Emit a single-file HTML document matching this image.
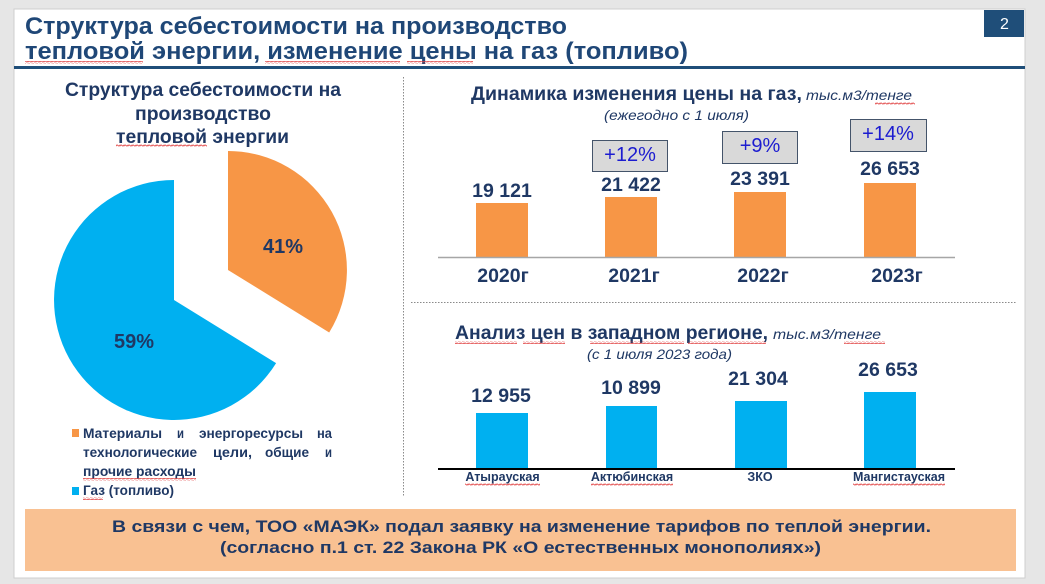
<!DOCTYPE html>
<html>
<head>
<meta charset="utf-8">
<style>
  html,body{margin:0;padding:0;background:#e6e6e6;}
  body{width:1045px;height:584px;overflow:hidden;}
  svg{display:block;}
  text{font-family:"Liberation Sans",Arial,sans-serif;}
</style>
</head>
<body>
<svg width="1045" height="584" viewBox="0 0 1045 584" xmlns="http://www.w3.org/2000/svg">
  <defs>
    <pattern id="wv" width="4" height="3" patternUnits="userSpaceOnUse">
      <path d="M0,2.2 L1,0.8 L3,2.2 L4,0.8" stroke="#e04040" fill="none" stroke-width="0.8"/>
    </pattern>
  </defs>
  <!-- background -->
  <rect x="0" y="0" width="1045" height="584" fill="#e6e6e6"/>
  <!-- slide -->
  <rect x="14" y="9" width="1011" height="569" fill="#ffffff" stroke="#cfcfcf" stroke-width="1"/>

  <!-- main title -->
  <text x="25" y="34" font-size="24" font-weight="bold" fill="#1f4777" textLength="542" lengthAdjust="spacingAndGlyphs">Структура себестоимости на производство</text>
  <text x="25" y="59" font-size="24" font-weight="bold" fill="#1f4777" textLength="663" lengthAdjust="spacingAndGlyphs">тепловой энергии, изменение цены на газ (топливо)</text>
  <rect x="25" y="61" width="118" height="3" fill="url(#wv)"/>
  <rect x="265" y="61" width="135" height="3" fill="url(#wv)"/>
  <rect x="407" y="61" width="66" height="3" fill="url(#wv)"/>
  <!-- title underline -->
  <rect x="14" y="66" width="1011" height="3" fill="#1f4e79"/>
  <!-- page number -->
  <rect x="984" y="10" width="40" height="27" fill="#1f4e79"/>
  <text x="1004.5" y="29" font-size="16" fill="#ffffff" text-anchor="middle">2</text>

  <!-- separators -->
  <line x1="403.5" y1="77" x2="403.5" y2="497" stroke="#8a8a8a" stroke-width="1" stroke-dasharray="1.5,1.5"/>
  <line x1="411" y1="302.5" x2="1016" y2="302.5" stroke="#8a8a8a" stroke-width="1" stroke-dasharray="1.5,1.5"/>

  <!-- LEFT PANEL -->
  <text x="65" y="96" font-size="19" font-weight="bold" fill="#1f3864" textLength="276" lengthAdjust="spacingAndGlyphs">Структура себестоимости на</text>
  <text x="135" y="120" font-size="19" font-weight="bold" fill="#1f3864" textLength="136" lengthAdjust="spacingAndGlyphs">производство</text>
  <text x="116" y="143" font-size="19" font-weight="bold" fill="#1f3864" textLength="173" lengthAdjust="spacingAndGlyphs">тепловой энергии</text>
  <rect x="116" y="144" width="91" height="3" fill="url(#wv)"/>

  <!-- pie -->
  <path d="M174,300 L276.1,363.1 A120,120 0 1 1 174,180 Z" fill="#00b0f0"/>
  <path d="M228,270 L228,151 A119,119 0 0 1 329.2,332.5 Z" fill="#f79646"/>
  <text x="283" y="253" font-size="20" font-weight="bold" fill="#1f3864" text-anchor="middle">41%</text>
  <text x="134" y="348" font-size="20" font-weight="bold" fill="#1f3864" text-anchor="middle">59%</text>

  <!-- legend -->
  <g font-size="13.5" font-weight="bold" fill="#1f3864">
    <rect x="72" y="429" width="7" height="8" fill="#f79646"/>
    <text x="83" y="438" textLength="79" lengthAdjust="spacingAndGlyphs">Материалы</text>
    <text x="177" y="438" textLength="7" lengthAdjust="spacingAndGlyphs">и</text>
    <text x="199" y="438" textLength="104" lengthAdjust="spacingAndGlyphs">энергоресурсы</text>
    <text x="317" y="438" textLength="15" lengthAdjust="spacingAndGlyphs">на</text>
    <text x="83" y="457" textLength="114" lengthAdjust="spacingAndGlyphs">технологические</text>
    <text x="213" y="457" textLength="39" lengthAdjust="spacingAndGlyphs">цели,</text>
    <text x="265" y="457" textLength="44" lengthAdjust="spacingAndGlyphs">общие</text>
    <text x="325" y="457" textLength="7" lengthAdjust="spacingAndGlyphs">и</text>
    <text x="83" y="476" textLength="113" lengthAdjust="spacingAndGlyphs">прочие расходы</text>
    <rect x="72" y="487" width="7" height="8" fill="#00b0f0"/>
    <text x="83" y="495" textLength="91" lengthAdjust="spacingAndGlyphs">Газ (топливо)</text>
  </g>
  <rect x="83" y="478" width="113" height="3" fill="url(#wv)"/>
  <rect x="83" y="497" width="20" height="3" fill="url(#wv)"/>

  <!-- RIGHT TOP CHART -->
  <text x="471" y="100" font-size="19" font-weight="bold" fill="#1f3864" textLength="331" lengthAdjust="spacingAndGlyphs">Динамика изменения цены на газ,</text>
  <text x="806" y="100" font-size="14" font-style="italic" fill="#1f3864" textLength="106" lengthAdjust="spacingAndGlyphs">тыс.м3/тенге</text>
  <rect x="875" y="102" width="40" height="3" fill="url(#wv)"/>
  <text x="604" y="120" font-size="14" font-style="italic" fill="#1f3864" textLength="145" lengthAdjust="spacingAndGlyphs">(ежегодно с 1 июля)</text>

  <rect x="476" y="203" width="52" height="54" fill="#f79646"/>
  <rect x="605" y="197" width="52" height="60" fill="#f79646"/>
  <rect x="734" y="192" width="52" height="65" fill="#f79646"/>
  <rect x="864" y="183" width="52" height="74" fill="#f79646"/>
  <line x1="438" y1="257.5" x2="955" y2="257.5" stroke="#a6a6a6" stroke-width="1.5"/>

  <text x="502" y="197" font-size="19.5" font-weight="bold" fill="#1f3864" text-anchor="middle">19 121</text>
  <text x="631" y="191" font-size="19.5" font-weight="bold" fill="#1f3864" text-anchor="middle">21 422</text>
  <text x="760" y="185" font-size="19.5" font-weight="bold" fill="#1f3864" text-anchor="middle">23 391</text>
  <text x="890" y="175" font-size="19.5" font-weight="bold" fill="#1f3864" text-anchor="middle">26 653</text>

  <rect x="592.5" y="140.5" width="75" height="31" fill="#d9d9d9" stroke="#44546a" stroke-width="1"/>
  <text x="630" y="161" font-size="20" fill="#1c1cd0" text-anchor="middle">+12%</text>
  <rect x="722.5" y="131.5" width="75" height="32" fill="#d9d9d9" stroke="#44546a" stroke-width="1"/>
  <text x="760" y="152" font-size="20" fill="#1c1cd0" text-anchor="middle">+9%</text>
  <rect x="850.5" y="119.5" width="76" height="32" fill="#d9d9d9" stroke="#44546a" stroke-width="1"/>
  <text x="888" y="140" font-size="20" fill="#1c1cd0" text-anchor="middle">+14%</text>

  <text x="503" y="282" font-size="19.5" font-weight="bold" fill="#1f3864" text-anchor="middle">2020г</text>
  <text x="634" y="282" font-size="19.5" font-weight="bold" fill="#1f3864" text-anchor="middle">2021г</text>
  <text x="763" y="282" font-size="19.5" font-weight="bold" fill="#1f3864" text-anchor="middle">2022г</text>
  <text x="897" y="282" font-size="19.5" font-weight="bold" fill="#1f3864" text-anchor="middle">2023г</text>

  <!-- RIGHT BOTTOM CHART -->
  <text x="455" y="339" font-size="19" font-weight="bold" fill="#1f3864" textLength="313" lengthAdjust="spacingAndGlyphs">Анализ цен в западном регионе,</text>
  <text x="773" y="339" font-size="14" font-style="italic" fill="#1f3864" textLength="108" lengthAdjust="spacingAndGlyphs">тыс.м3/тенге</text>
  <rect x="455" y="341" width="62" height="3" fill="url(#wv)"/>
  <rect x="523" y="341" width="42" height="3" fill="url(#wv)"/>
  <rect x="590" y="341" width="94" height="3" fill="url(#wv)"/>
  <rect x="688" y="341" width="78" height="3" fill="url(#wv)"/>
  <rect x="844" y="341" width="41" height="3" fill="url(#wv)"/>
  <text x="587" y="359" font-size="14" font-style="italic" fill="#1f3864" textLength="145" lengthAdjust="spacingAndGlyphs">(с 1 июля 2023 года)</text>

  <rect x="476" y="413" width="52" height="55" fill="#00b0f0"/>
  <rect x="606" y="406" width="51" height="62" fill="#00b0f0"/>
  <rect x="735" y="401" width="52" height="67" fill="#00b0f0"/>
  <rect x="864" y="392" width="52" height="76" fill="#00b0f0"/>
  <line x1="438" y1="469" x2="955" y2="469" stroke="#000000" stroke-width="2"/>

  <text x="501" y="402" font-size="19.5" font-weight="bold" fill="#1f3864" text-anchor="middle">12 955</text>
  <text x="631" y="394" font-size="19.5" font-weight="bold" fill="#1f3864" text-anchor="middle">10 899</text>
  <text x="758" y="385" font-size="19.5" font-weight="bold" fill="#1f3864" text-anchor="middle">21 304</text>
  <text x="888" y="376" font-size="19.5" font-weight="bold" fill="#1f3864" text-anchor="middle">26 653</text>

  <text x="502.5" y="481" font-size="12.5" font-weight="bold" fill="#1f3864" text-anchor="middle">Атырауская</text>
  <text x="632" y="481" font-size="12.5" font-weight="bold" fill="#1f3864" text-anchor="middle">Актюбинская</text>
  <text x="760" y="481" font-size="12.5" font-weight="bold" fill="#1f3864" text-anchor="middle">ЗКО</text>
  <text x="899" y="481" font-size="12.5" font-weight="bold" fill="#1f3864" text-anchor="middle">Мангистауская</text>
  <rect x="465" y="483" width="75" height="3" fill="url(#wv)"/>
  <rect x="591" y="483" width="82" height="3" fill="url(#wv)"/>
  <rect x="853" y="483" width="92" height="3" fill="url(#wv)"/>

  <!-- BOTTOM BOX -->
  <rect x="25" y="509" width="991" height="62" fill="#f9c192"/>
  <text x="112" y="532" font-size="16.5" font-weight="bold" fill="#1f3864" textLength="819" lengthAdjust="spacingAndGlyphs">В связи с чем, ТОО «МАЭК» подал заявку на изменение тарифов по теплой энергии.</text>
  <text x="220" y="553" font-size="16.5" font-weight="bold" fill="#1f3864" textLength="601" lengthAdjust="spacingAndGlyphs">(согласно п.1 ст. 22 Закона РК «О естественных монополиях»)</text>
</svg>
</body>
</html>
